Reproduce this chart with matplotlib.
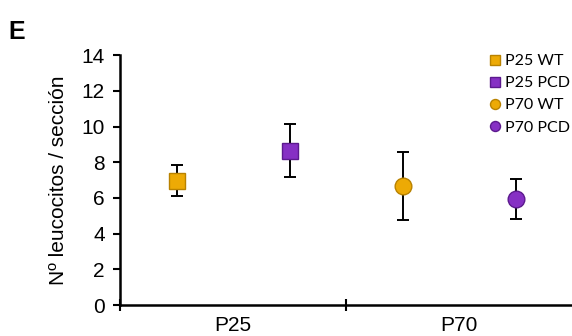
import numpy as np
import matplotlib.pyplot as plt

plt.rcParams['font.family'] = ['Liberation Sans', 'DejaVu Sans']

# data
groups = ['P25 WT', 'P25 PCD', 'P70 WT', 'P70 PCD']
xpos = [0.25, 0.75, 1.25, 1.75]
means = [6.95, 8.65, 6.65, 5.95]
err_lo = [0.85, 1.5, 1.9, 1.15]
err_hi = [0.9, 1.5, 1.9, 1.1]
markers = ['s', 's', 'o', 'o']
face = ['#EDAA05', '#8630C4', '#EDAA05', '#8630C4']
edge = ['#B98200', '#5C1A8E', '#B98200', '#5C1A8E']
cat_labels = ['P25', 'P70']
yticks = [0, 2, 4, 6, 8, 10, 12, 14]

fig = plt.figure(figsize=(5.72, 3.36), dpi=100)
ax = fig.add_axes([0.21, 0.092, 0.79, 0.744])

for i in range(len(groups)):
    ax.errorbar(xpos[i], means[i], yerr=[[err_lo[i]], [err_hi[i]]], fmt='none',
                ecolor='black', elinewidth=1.4, capsize=4, capthick=1.4, zorder=2)
    ax.plot(xpos[i], means[i], marker=markers[i], ms=12, mfc=face[i], mec=edge[i],
            mew=1.0, ls='none', zorder=3, label=groups[i])

ax.set_xlim(0, 2)
ax.set_ylim(0, 14)
ax.set_yticks(yticks)
ax.tick_params(axis='y', direction='out', length=5, width=1.5, labelsize=15, pad=6)
ax.set_xticks([0, 1])
ax.set_xticklabels(['', ''])
ax.tick_params(axis='x', direction='inout', length=9, width=1.5)
ax.set_xticks([0.5, 1.5], cat_labels, minor=True)
ax.tick_params(axis='x', which='minor', length=0, labelsize=15, pad=8)

for s in ['top', 'right']:
    ax.spines[s].set_visible(False)
for s in ['left', 'bottom']:
    ax.spines[s].set_linewidth(1.8)

ax.set_ylabel('Nº leucocitos / sección', fontsize=15, labelpad=10)

leg = ax.legend(loc='upper right', bbox_to_anchor=(1.027, 1.062), frameon=False,
                prop={'family': 'Lato', 'size': 11.5}, markerscale=0.6,
                handlelength=0.5, handletextpad=0.35, labelspacing=0.5)

fig.text(0.015, 0.885, 'E', fontsize=18, fontweight='bold')

fig.savefig('out.png', dpi=100)
